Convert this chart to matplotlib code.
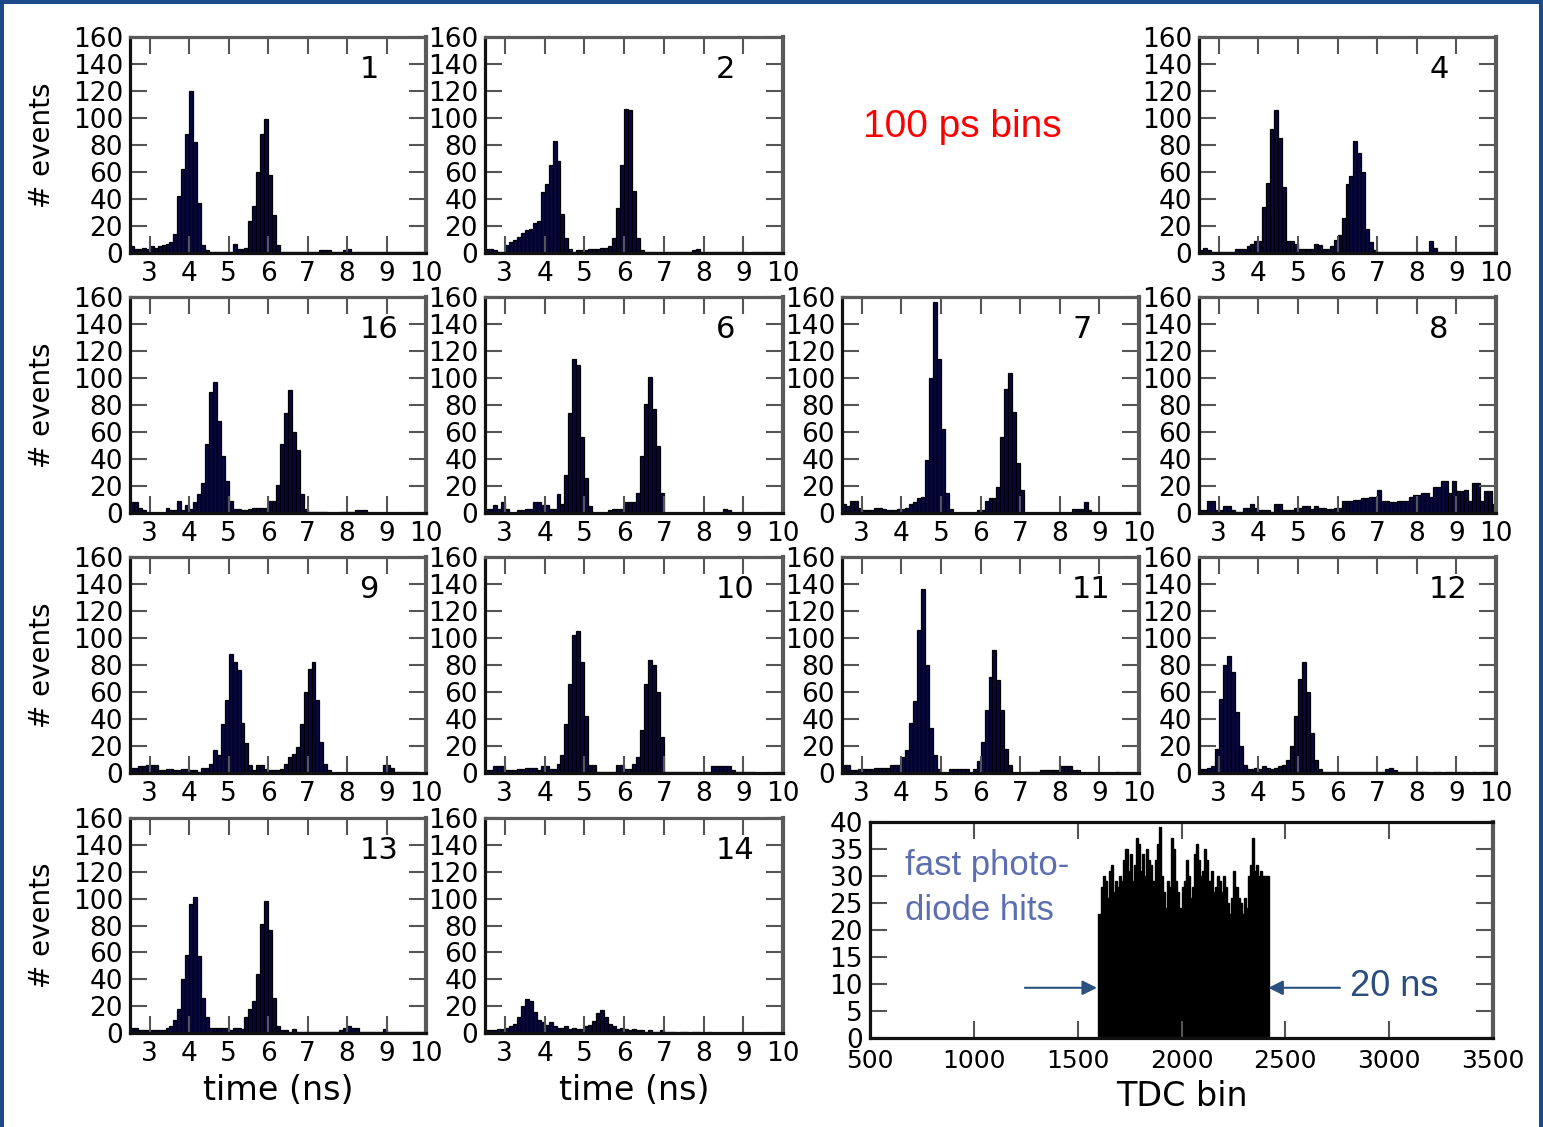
import numpy as np
import matplotlib
matplotlib.use("Agg")
import matplotlib.pyplot as plt
from matplotlib.patches import Rectangle

# ---------------- data ----------------
# 100 ps bins starting at 2.5 ns (75 bins up to 10 ns)
time_bins = np.round(np.arange(2.5, 10.0, 0.1), 2)

counts_1 = [5,3,3,4,3,5,4,5,6,7, 8,14,42,62,88,120,82,37,6,2, 1,1,1,1,1,1,7,3,3,4,
            24,35,60,88,99,58,28,6,1,1, 1,1,1,1,1,1,1,1,2,2, 2,1,1,1,2,3,1,1,1,1,
            1,1,1,1,1,1,1,1,1,1, 1,1,1,1,1]
counts_2 = [3,3,2,1,1,6,8,10,12,15, 17,18,22,24,45,51,65,83,68,29, 11,3,1,2,2,2,3,3,3,4,
            4,5,11,33,65,107,106,46,11,2, 1,1,1,1,1,1,1,1,1,1, 1,1,2,3,1,1,1,1,1,1,
            1,1,1,1,1,1,0,1,1,1, 1,1,1,1,1]
counts_4 = [2,4,2,1,1,1,1,1,1,3, 3,3,5,7,9,9,34,52,92,106, 85,49,9,9,7,3,3,3,3,7,
            6,3,3,5,10,13,26,51,57,83, 74,60,18,8,2,1,1,1,1,1, 1,1,1,1,1,1,1,1,9,4,
            1,1,1,1,1,1,1,1,1,1, 1,1,1,1,1]
counts_16 = [8,8,4,2,0,0,0,0,0,4, 2,2,9,2,6,3,8,14,22,51, 90,97,68,42,24,9,3,3,2,2,
             3,4,4,4,4,9,9,21,51,74, 91,60,47,14,3,1,1,1,1,1, 0,0,0,1,1,1,1,2,2,2,
             0,0,0,0,0,0,0,0,0,0, 0,0,0,0,0]
counts_6 = [3,3,6,3,8,3,0,0,2,2, 3,3,8,8,6,6,3,3,14,7, 28,74,114,110,56,26,5,0,0,0,
            0,2,3,3,3,8,8,8,15,42, 81,101,77,50,15,0,0,0,0,0, 0,0,0,0,0,0,0,0,0,0,
            3,2,0,0,0,0,0,0,0,0, 0,0,0,0,0]
counts_7 = [7,5,9,9,4,2,2,2,4,4, 3,2,2,2,3,3,4,7,8,11, 12,39,100,156,114,62,15,3,0,0,
            0,0,0,0,2,2,9,11,11,19, 56,92,104,75,37,17,0,0,0,0, 0,0,0,0,0,0,0,0,3,3,
            3,8,2,1,0,0,0,0,0,0, 0,0,0,0,0]
counts_8 = [2,2,9,9,2,2,5,5,2,1, 1,4,4,7,4,2,2,2,1,7, 7,2,2,2,4,4,5,5,3,5,
            4,4,3,3,4,4,9,9,9,10, 10,11,11,12,12,17,9,9,8,8, 9,9,9,12,13,13,15,15,12,19,
            19,24,24,15,24,16,16,17,9,22, 22,9,16,16,7]
counts_9 = [4,4,5,5,6,6,6,2,2,3, 3,2,2,3,3,2,2,1,4,4, 7,17,13,36,54,88,82,76,37,22,
            6,2,6,6,3,2,2,2,3,7, 12,14,19,36,60,77,82,54,23,7, 2,0,0,0,0,0,0,0,0,0,
            0,0,0,0,6,6,4,1,1,1, 1,1,1,0,0]
counts_10 = [2,2,5,5,5,2,2,2,3,3, 4,4,4,2,5,5,3,3,7,13, 36,66,102,105,82,42,6,6,1,1,
             1,1,1,6,6,3,3,7,12,32, 66,84,80,60,27,1,1,1,1,1, 1,1,1,1,1,1,1,5,5,5,
             5,5,2,1,1,1,1,1,0,0, 0,0,0,1,1]
counts_11 = [6,6,2,2,3,3,3,3,4,4, 4,4,6,6,6,12,17,37,53,106, 136,80,33,13,3,0,0,3,3,3,
             3,3,0,3,9,23,47,71,91,69, 47,18,6,0,0,0,1,1,1,1, 2,2,2,2,2,5,5,5,2,2,
             0,0,0,0,0,0,0,0,0,1, 0,0,0,0,0]
counts_12 = [3,3,4,5,18,55,80,87,75,45, 20,6,3,3,4,3,5,4,3,4, 5,6,10,20,42,70,82,60,30,10,
             3,1,1,1,1,1,1,1,1,1, 1,1,1,1,1,1,1,3,4,2, 1,1,1,1,1,1,1,1,0,1,
             1,0,1,1,0,1,1,1,0,1, 0,1,1,0,1]
counts_13 = [4,4,2,2,2,2,2,2,2,4, 5,10,18,40,58,96,101,57,26,12, 4,4,4,4,4,2,4,4,3,12,
             18,24,44,81,98,77,26,5,2,2, 1,3,1,1,1,1,1,1,1,1, 1,1,1,2,4,5,4,4,1,1,
             1,1,1,1,3,1,1,1,1,1, 1,1,1,1,1]
counts_14 = [2,2,2,3,3,4,5,7,12,20, 25,24,16,10,8,6,8,5,4,4, 5,3,4,3,3,5,6,9,15,17,
             12,7,5,3,4,3,2,3,2,2, 1,2,1,1,2,1,1,1,0,1, 1,0,1,1,0,0,1,0,0,0,
             0,0,0,0,0,0,0,0,0,0, 0,0,0,0,0]

panel_labels = ["1", "2", "4", "16", "6", "7", "8", "9", "10", "11", "12", "13", "14"]
panel_counts = [counts_1, counts_2, counts_4, counts_16, counts_6, counts_7, counts_8,
                counts_9, counts_10, counts_11, counts_12, counts_13, counts_14]
x_ticks = [3, 4, 5, 6, 7, 8, 9, 10]
y_ticks = [0, 20, 40, 60, 80, 100, 120, 140, 160]

# fast photodiode TDC histogram (bins of 10 TDC counts starting at 1600)
tdc_bin_start = 1600
tdc_bin_width = 10
tdc_counts = [23,28,30,29,26,31,32,27,29,28, 30,29,33,35,31,34,29,32,37,36,
              31,34,30,35,33,32,29,33,36,39, 30,27,24,29,28,37,35,29,27,24,
              28,29,33,30,26,28,34,36,33,30, 31,35,33,29,31,27,28,30,29,27,
              30,28,25,23,26,31,28,26,25,23, 26,24,30,32,37,31,32,30,31,30,
              30,30]
tdc_x_ticks = [500, 1000, 1500, 2000, 2500, 3000, 3500]
tdc_y_ticks = [0, 5, 10, 15, 20, 25, 30, 35, 40]

# ---------------- layout ----------------
W, H = 1543, 1127
fig = plt.figure(figsize=(W / 100, H / 100), dpi=100)
fig.patch.set_facecolor("white")

col_x = [(130, 426), (485, 783), (842, 1139), (1199, 1496)]
row_y = [(37, 253), (297, 513), (557, 773), (818, 1033)]
grid_pos = [(0, 0), (0, 1), (0, 3), (1, 0), (1, 1), (1, 2), (1, 3),
            (2, 0), (2, 1), (2, 2), (2, 3), (3, 0), (3, 1)]


def ax_at(x0, y0, x1, y1):
    return fig.add_axes([x0 / W, 1 - y1 / H, (x1 - x0) / W, (y1 - y0) / H])


def style(ax, fs=19):
    for s in ["top", "right"]:
        ax.spines[s].set_color("#5a5a5a")
    for s in ["left", "bottom"]:
        ax.spines[s].set_color("#111111")
    for s in ax.spines.values():
        s.set_linewidth(2.3)
    ax.spines["right"].set_linewidth(3)
    ax.tick_params(direction="in", top=True, right=True, length=12, width=1.5,
                   color="#555555", labelsize=fs, pad=5)
    ax.tick_params(axis="x", pad=6)


BAR_FACE = "#08083f"

for lab, cnt, (r, c) in zip(panel_labels, panel_counts, grid_pos):
    x0, x1 = col_x[c]
    y0, y1 = row_y[r]
    ax = ax_at(x0, y0, x1, y1)
    ax.bar(time_bins, cnt, width=0.1, align="edge", color=BAR_FACE,
           edgecolor="black", linewidth=0.9)
    ax.set_xlim(2.5, 10)
    ax.set_ylim(0, 160)
    ax.set_xticks(x_ticks)
    ax.set_yticks(y_ticks)
    style(ax)
    ax.text(0.775, 0.85, lab, transform=ax.transAxes, ha="left", va="center",
            fontsize=22, color="black")
    if c == 0:
        fig.text(42 / W, 1 - ((y0 + y1) / 2) / H, "# events", rotation=90,
                 ha="center", va="center", fontsize=20)
    if r == 3:
        fig.text(((x0 + x1) / 2) / W, 1 - 1090 / H, "time (ns)", ha="center",
                 va="center", fontsize=24)

# TDC panel
tdc_edges = [tdc_bin_start + tdc_bin_width * i for i in range(len(tdc_counts))]
axt = ax_at(870, 822, 1493, 1038)
axt.bar(tdc_edges, tdc_counts, width=tdc_bin_width, align="edge", color="black",
        edgecolor="black", linewidth=1.0)
axt.set_xlim(500, 3500)
axt.set_ylim(0, 40)
axt.set_xticks(tdc_x_ticks)
axt.set_yticks(tdc_y_ticks)
style(axt)
axt.spines["top"].set_color("#111111")
axt.tick_params(axis="x", labelsize=18, pad=8)
fig.text(1182 / W, 1 - 1097 / H, "TDC bin", ha="center", va="center", fontsize=24)

arrow_col = "#2b5080"
axt.annotate("", xy=(1593, 9.3), xytext=(1246, 9.3),
             arrowprops=dict(arrowstyle="-|>", color=arrow_col, lw=1.5,
                             mutation_scale=22, shrinkA=0, shrinkB=0))
axt.annotate("", xy=(2418, 9.3), xytext=(2763, 9.3),
             arrowprops=dict(arrowstyle="-|>", color=arrow_col, lw=1.5,
                             mutation_scale=22, shrinkA=0, shrinkB=0))

fig.text(962 / W, 1 - 127 / H, "100 ps bins", ha="center", va="center",
         fontsize=28, color="#ff0000", family="Liberation Sans")
fig.text(905 / W, 1 - 866 / H, "fast photo-", ha="left", va="center",
         fontsize=25, color="#5d6eb0", family="Liberation Sans")
fig.text(905 / W, 1 - 910 / H, "diode hits", ha="left", va="center",
         fontsize=25, color="#5d6eb0", family="Liberation Sans")
fig.text(1350 / W, 1 - 986 / H, "20 ns", ha="left", va="center",
         fontsize=26, color="#2b4d7e", family="Liberation Sans")

# slide frame (top, left, right)
frame_col = "#1d4b8a"
fig.add_artist(Rectangle((0, 1 - 4 / H), 1, 4 / H, transform=fig.transFigure,
                         color=frame_col, lw=0))
fig.add_artist(Rectangle((0, 0), 4 / W, 1, transform=fig.transFigure,
                         color=frame_col, lw=0))
fig.add_artist(Rectangle((1 - 4 / W, 0), 4 / W, 1, transform=fig.transFigure,
                         color=frame_col, lw=0))

fig.savefig("out.png", dpi=100, facecolor="white")
